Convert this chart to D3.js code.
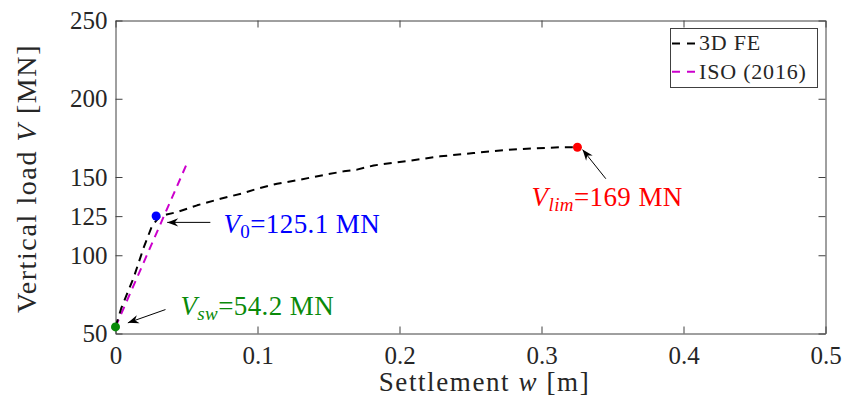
<!DOCTYPE html>
<html>
<head>
<meta charset="utf-8">
<script src="https://cdn.jsdelivr.net/npm/d3@7"></script>
<style>
  html, body { margin: 0; padding: 0; background: #fff; }
</style>
</head>
<body>
<svg id="chart" width="843" height="400"></svg>
<script>
// 3D finite-element load-settlement response
const feSettlement = [0, 0.004, 0.0129, 0.0199, 0.0258, 0.031, 0.036, 0.0434, 0.0575, 0.0739,
  0.0901, 0.0997, 0.1138, 0.130, 0.149, 0.1607, 0.170, 0.1818, 0.2053, 0.2287,
  0.2521, 0.271, 0.2897, 0.313, 0.3253];
const feLoad = [54.2, 66, 86, 105, 119, 124.5, 126, 127.6, 131.9, 136.1,
  139.7, 142.5, 145.7, 148.3, 151.7, 153.6, 154.7, 157.4, 160.2, 163.2,
  165.3, 167, 168.1, 169, 169];

// ISO (2016) initial linear stiffness
const isoSettlement = [0, 0.05];
const isoLoad = [54.2, 158];

// Key load levels: self-weight, V0, limit load
const keySettlement = [0, 0.0286, 0.3253];
const keyLoad = [54.2, 125.1, 169];
const keyUnits = ["MN", "MN", "MN"];

const xTicks = [0, 0.1, 0.2, 0.3, 0.4, 0.5];
const yTicks = [50, 100, 125, 150, 200, 250];
const legendLabels = ["3D FE", "ISO (2016)"];

const FONT = '"Liberation Serif"';
const svg = d3.select("#chart");
const x = d3.scaleLinear().domain([0, 0.5]).range([115.5, 825.5]);
const y = d3.scaleLinear().domain([50, 250]).range([333.5, 20.5]);

const axisColor = "#404040";
const textColor = "#262626";

// Axes (box with inward ticks on all four sides)
function styleAxis(g) {
  g.attr("font-family", null).attr("font-size", null);
  g.select(".domain").attr("stroke", axisColor).attr("stroke-width", 1);
  g.selectAll(".tick line").attr("stroke", axisColor).attr("stroke-width", 1);
  g.selectAll(".tick text").attr("fill", textColor)
    .style("font-family", FONT).style("font-size", "25px");
}
const fmtX = d => d === 0 ? "0" : String(d);

svg.append("g").attr("transform", `translate(0,${y(50)})`)
  .call(d3.axisBottom(x).tickValues(xTicks).tickFormat(fmtX).tickSizeInner(-7).tickSizeOuter(0).tickPadding(13))
  .call(styleAxis);
svg.append("g").attr("transform", `translate(0,${y(250)})`)
  .call(d3.axisTop(x).tickValues(xTicks).tickFormat("").tickSizeInner(-7).tickSizeOuter(0))
  .call(styleAxis);
svg.append("g").attr("transform", `translate(${x(0)},0)`)
  .call(d3.axisLeft(y).tickValues(yTicks).tickFormat(d3.format("d")).tickSizeInner(-7).tickSizeOuter(0).tickPadding(8))
  .call(styleAxis);
svg.append("g").attr("transform", `translate(${x(0.5)},0)`)
  .call(d3.axisRight(y).tickValues(yTicks).tickFormat("").tickSizeInner(-7).tickSizeOuter(0))
  .call(styleAxis);

// Axis titles
svg.append("text")
  .attr("x", 484.5).attr("y", 391)
  .attr("text-anchor", "middle")
  .style("font-family", FONT)
  .style("font-size", "27px").style("letter-spacing", "1.6px")
  .attr("fill", textColor)
  .call(t => {
    t.append("tspan").text("Settlement ");
    t.append("tspan").style("font-style", "italic").text("w");
    t.append("tspan").text(" [m]");
  });
svg.append("text")
  .attr("transform", "translate(36,178.5) rotate(-90)")
  .attr("text-anchor", "middle")
  .style("font-family", FONT)
  .style("font-size", "28px").style("letter-spacing", "1.6px")
  .attr("fill", textColor)
  .call(t => {
    t.append("tspan").text("Vertical load ");
    t.append("tspan").style("font-style", "italic").text("V");
    t.append("tspan").text(" [MN]");
  });

// Curves
const lineGen = d3.line().x(d => x(d[0])).y(d => y(d[1]));
const fePts = feSettlement.map((w, i) => [w, feLoad[i]]);
const isoPts = isoSettlement.map((w, i) => [w, isoLoad[i]]);

svg.append("path").datum(isoPts)
  .attr("d", lineGen).attr("fill", "none")
  .attr("stroke", "#cc00cc").attr("stroke-width", 2).attr("stroke-dasharray", "8,6");
svg.append("path").datum(fePts)
  .attr("d", lineGen).attr("fill", "none")
  .attr("stroke", "#000").attr("stroke-width", 2).attr("stroke-dasharray", "8,6")
  .attr("stroke-linejoin", "round");

// Arrow head marker
svg.append("defs").append("marker")
  .attr("id", "arrowHead")
  .attr("markerUnits", "userSpaceOnUse")
  .attr("markerWidth", 14).attr("markerHeight", 12)
  .attr("viewBox", "-12 -6 14 12")
  .attr("refX", 0).attr("refY", 0)
  .attr("orient", "auto")
  .append("path")
  .attr("d", "M0,0 L-11,-4.2 L-7.5,0 L-11,4.2 Z")
  .attr("fill", "#000");

// Annotation layout for each key point: label anchor and arrow (in data units)
const keyColors = ["#0a8a0a", "#0000ff", "#ff0000"];
const keySubscripts = ["sw", "0", "lim"];
const labelAt = [[0.0457, 62.1], [0.076, 114.2], [0.293, 131.3]];
const arrowFrom = [[0.0352, 65.3], [0.0668, 121], [0.3453, 148.9]];
const arrowTo = [[0.0087, 56.8], [0.0364, 121], [0.3289, 167.5]];

keyLoad.forEach((v, i) => {
  svg.append("line")
    .attr("x1", x(arrowFrom[i][0])).attr("y1", y(arrowFrom[i][1]))
    .attr("x2", x(arrowTo[i][0])).attr("y2", y(arrowTo[i][1]))
    .attr("stroke", "#000").attr("stroke-width", 1)
    .attr("marker-end", "url(#arrowHead)");

  svg.append("circle")
    .attr("cx", x(keySettlement[i])).attr("cy", y(v)).attr("r", 4.5)
    .attr("fill", keyColors[i]);

  const t = svg.append("text")
    .attr("x", x(labelAt[i][0])).attr("y", y(labelAt[i][1]))
    .attr("fill", keyColors[i])
    .style("font-family", FONT)
    .style("font-size", "27px").style("letter-spacing", "0.4px");
  t.append("tspan").style("font-style", "italic").text("V");
  t.append("tspan").attr("dy", 5).style("font-size", "19px")
    .style("font-style", keySubscripts[i] === "0" ? "normal" : "italic")
    .text(keySubscripts[i]);
  t.append("tspan").attr("dy", -5).text("=" + v + " " + keyUnits[i]);
});

// Legend
const legend = svg.append("g");
legend.append("rect")
  .attr("x", 670.5).attr("y", 28.5).attr("width", 147).attr("height", 59)
  .attr("fill", "#fff").attr("stroke", axisColor).attr("stroke-width", 1);
const legendColors = ["#000", "#cc00cc"];
legendLabels.forEach((lab, i) => {
  const cy = 43.5 + i * 28.3;
  legend.append("line")
    .attr("x1", 672).attr("x2", 697).attr("y1", cy).attr("y2", cy)
    .attr("stroke", legendColors[i]).attr("stroke-width", 2)
    .attr("stroke-dasharray", "8,7");
  legend.append("text")
    .attr("x", 699).attr("y", cy + 6.8)
    .attr("fill", textColor)
    .style("font-family", FONT)
    .style("font-size", "22px").style("letter-spacing", "0.8px")
    .text(lab);
});
</script>
</body>
</html>
